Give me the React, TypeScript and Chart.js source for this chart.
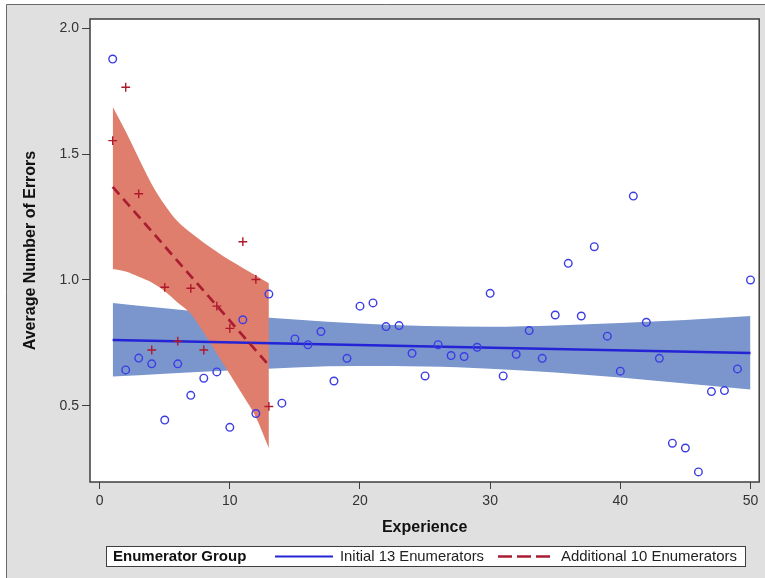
import React, { useEffect, useRef } from "react";
import { Chart, registerables } from "chart.js";

Chart.register(...registerables);

// ---- Data ----
const experienceInitial = [
  1, 2, 3, 4, 5, 6, 7, 8, 9, 10, 11, 12, 13, 14, 15, 16, 17, 18, 19, 20, 21, 22, 23, 24, 25,
  26, 27, 28, 29, 30, 31, 32, 33, 34, 35, 36, 37, 38, 39, 40, 41, 42, 43, 44, 45, 46, 47, 48, 49, 50,
];
const errorsInitial = [
  1.877, 0.643, 0.69, 0.667, 0.444, 0.667, 0.542, 0.61, 0.635, 0.415, 0.842, 0.47, 0.944, 0.511, 0.766,
  0.743, 0.795, 0.599, 0.689, 0.896, 0.909, 0.815, 0.819, 0.709, 0.619, 0.743, 0.7, 0.696, 0.733, 0.947,
  0.619, 0.705, 0.799, 0.689, 0.861, 1.066, 0.857, 1.132, 0.777, 0.638, 1.333, 0.832, 0.689, 0.352, 0.333,
  0.238, 0.557, 0.561, 0.647, 1.0,
];
const experienceAdditional = [1, 2, 3, 4, 5, 6, 7, 8, 9, 10, 11, 12, 13];
const errorsAdditional = [1.553, 1.765, 1.342, 0.722, 0.971, 0.757, 0.967, 0.722, 0.896, 0.808, 1.152, 1.002, 0.498];

const fitInitialX = [1, 50];
const fitInitialY = [0.762, 0.71];
const fitAdditionalX = [1, 13];
const fitAdditionalY = [1.37, 0.661];

const bandInitialX = [1, 5, 10, 15, 20, 25, 30, 35, 40, 45, 50];
const bandInitialUpper = [0.909, 0.888, 0.863, 0.843, 0.827, 0.817, 0.814, 0.819, 0.829, 0.841, 0.857];
const bandInitialLower = [0.617, 0.628, 0.641, 0.653, 0.658, 0.657, 0.648, 0.633, 0.613, 0.589, 0.565];

const bandAdditionalX = [1, 2, 3, 4, 5, 6, 7, 8, 9, 10, 11, 12, 13];
const bandAdditionalUpper = [1.688, 1.589, 1.483, 1.38, 1.298, 1.232, 1.187, 1.148, 1.112, 1.078, 1.048, 1.018, 0.987];
const bandAdditionalLower = [1.044, 1.034, 1.013, 0.99, 0.955, 0.91, 0.866, 0.79, 0.708, 0.626, 0.542, 0.455, 0.332];

const xTicks = [0, 10, 20, 30, 40, 50];
const yTicks = [0.5, 1.0, 1.5, 2.0];

const xTitle = "Experience";
const yTitle = "Average Number of Errors";
const legendTitle = "Enumerator Group";
const seriesNames = ["Initial 13 Enumerators", "Additional 10 Enumerators"];

// ---- Styles ----
const FONT = "'Liberation Sans', Arial, Helvetica, sans-serif";
const BLUE_BAND = "#7A96CC";
const RED_BAND = "#E07E6D";
const BLUE_LINE = "#2424D6";
const RED_LINE = "#A91D32";
const BLUE_MARK = "#3C3CE4";
const RED_MARK = "#B0182C";
const PAGE_BG = "#E0E0E0";
const FRAME = "#3E3E3E";

const pts = (xs: number[], ys: number[]) => xs.map((x, i) => ({ x, y: ys[i] }));

const decorPlugin = {
  id: "decor",
  beforeDraw(chart: any) {
    const { ctx, width, height, chartArea } = chart;
    ctx.save();
    ctx.fillStyle = "#FFFFFF";
    ctx.fillRect(0, 0, width, height);
    ctx.fillStyle = PAGE_BG;
    ctx.fillRect(6, 4, width - 6, height - 4);
    ctx.strokeStyle = "#6A6A6A";
    ctx.lineWidth = 1;
    ctx.beginPath();
    ctx.moveTo(6.5, height);
    ctx.lineTo(6.5, 4.5);
    ctx.lineTo(width, 4.5);
    ctx.stroke();
    ctx.fillStyle = "#FFFFFF";
    ctx.fillRect(chartArea.left, chartArea.top, chartArea.right - chartArea.left, chartArea.bottom - chartArea.top);
    ctx.restore();
  },
  afterDraw(chart: any) {
    const { ctx, chartArea } = chart;
    ctx.save();
    // plot frame
    ctx.strokeStyle = FRAME;
    ctx.lineWidth = 1.5;
    ctx.strokeRect(chartArea.left, chartArea.top, chartArea.right - chartArea.left, chartArea.bottom - chartArea.top);

    // axis titles
    ctx.fillStyle = "#111111";
    ctx.font = `bold 16px ${FONT}`;
    ctx.textAlign = "center";
    ctx.textBaseline = "middle";
    ctx.fillText(xTitle, (chartArea.left + chartArea.right) / 2, 528);
    ctx.save();
    ctx.translate(31, (chartArea.top + chartArea.bottom) / 2);
    ctx.rotate(-Math.PI / 2);
    ctx.fillText(yTitle, 0, 0);
    ctx.restore();

    // legend
    const lx = 106, ly = 546, lw = 639, lh = 20;
    const cy = ly + lh / 2 + 0.5;
    ctx.fillStyle = "#FFFFFF";
    ctx.fillRect(lx, ly, lw, lh);
    ctx.strokeStyle = FRAME;
    ctx.lineWidth = 1;
    ctx.strokeRect(lx + 0.5, ly + 0.5, lw, lh);

    ctx.textAlign = "left";
    ctx.fillStyle = "#111111";
    ctx.font = `bold 15px ${FONT}`;
    ctx.fillText(legendTitle, 113, cy, 138);

    ctx.strokeStyle = BLUE_LINE;
    ctx.lineWidth = 2.2;
    ctx.beginPath();
    ctx.moveTo(275, cy);
    ctx.lineTo(333, cy);
    ctx.stroke();
    ctx.font = `15px ${FONT}`;
    ctx.fillStyle = "#222222";
    ctx.fillText(seriesNames[0], 340, cy, 144);

    ctx.strokeStyle = RED_LINE;
    ctx.lineWidth = 2.6;
    ctx.setLineDash([14, 5]);
    ctx.beginPath();
    ctx.moveTo(498, cy);
    ctx.lineTo(552, cy);
    ctx.stroke();
    ctx.setLineDash([]);
    ctx.fillText(seriesNames[1], 561, cy, 176);
    ctx.restore();
  },
};

export default function App() {
  const ref = useRef<HTMLCanvasElement | null>(null);

  useEffect(() => {
    document.body.style.margin = "0";
    const canvas = ref.current;
    if (!canvas) return;
    const chart = new Chart(canvas, {
      type: "line",
      data: {
        datasets: [
          {
            label: seriesNames[1] + " points",
            data: pts(experienceAdditional, errorsAdditional),
            showLine: false,
            pointStyle: "cross",
            pointRadius: 4.4,
            pointBorderWidth: 1.4,
            pointBorderColor: RED_MARK,
            pointBackgroundColor: RED_MARK,
          },
          {
            label: seriesNames[0] + " points",
            data: pts(experienceInitial, errorsInitial),
            showLine: false,
            pointStyle: "circle",
            pointRadius: 3.8,
            pointBorderWidth: 1.4,
            pointBorderColor: BLUE_MARK,
            pointBackgroundColor: "rgba(0,0,0,0)",
          },
          {
            label: seriesNames[1],
            data: pts(fitAdditionalX, fitAdditionalY),
            borderColor: RED_LINE,
            borderWidth: 2.7,
            borderDash: [10, 6],
            pointRadius: 0,
            fill: false,
          },
          {
            label: seriesNames[0],
            data: pts(fitInitialX, fitInitialY),
            borderColor: BLUE_LINE,
            borderWidth: 2.6,
            pointRadius: 0,
            fill: false,
          },
          {
            label: "additional upper",
            data: pts(bandAdditionalX, bandAdditionalUpper),
            borderWidth: 0,
            borderColor: "rgba(0,0,0,0)",
            backgroundColor: RED_BAND,
            pointRadius: 0,
            cubicInterpolationMode: "monotone",
            fill: "+1",
          },
          {
            label: "additional lower",
            data: pts(bandAdditionalX, bandAdditionalLower),
            borderWidth: 0,
            borderColor: "rgba(0,0,0,0)",
            pointRadius: 0,
            cubicInterpolationMode: "monotone",
            fill: false,
          },
          {
            label: "initial upper",
            data: pts(bandInitialX, bandInitialUpper),
            borderWidth: 0,
            borderColor: "rgba(0,0,0,0)",
            backgroundColor: BLUE_BAND,
            pointRadius: 0,
            cubicInterpolationMode: "monotone",
            fill: "+1",
          },
          {
            label: "initial lower",
            data: pts(bandInitialX, bandInitialLower),
            borderWidth: 0,
            borderColor: "rgba(0,0,0,0)",
            pointRadius: 0,
            cubicInterpolationMode: "monotone",
            fill: false,
          },
        ],
      } as any,
      options: {
        responsive: false,
        animation: false,
        devicePixelRatio: 1,
        layout: { padding: { left: 0, top: 19, right: 4, bottom: 0 } },
        plugins: {
          legend: { display: false },
          tooltip: { enabled: false },
          title: { display: false },
        },
        scales: {
          x: {
            type: "linear",
            min: -0.743,
            max: 50.67,
            afterBuildTicks: (s: any) => {
              s.ticks = xTicks.map((v) => ({ value: v }));
            },
            afterFit: (s: any) => {
              s.height = 96;
            },
            grid: { drawOnChartArea: false, drawTicks: true, tickLength: 7, color: FRAME, lineWidth: 1 },
            border: { display: false },
            ticks: {
              color: "#333333",
              font: { family: FONT, size: 14 },
              padding: 4,
              autoSkip: false,
              maxRotation: 0,
              callback: (v: any) => String(v),
            },
          },
          y: {
            type: "linear",
            min: 0.198,
            max: 2.036,
            afterBuildTicks: (s: any) => {
              s.ticks = yTicks.map((v) => ({ value: v }));
            },
            afterFit: (s: any) => {
              s.width = 90;
            },
            grid: { drawOnChartArea: false, drawTicks: true, tickLength: 8, color: FRAME, lineWidth: 1 },
            border: { display: false },
            ticks: {
              color: "#333333",
              font: { family: FONT, size: 14 },
              padding: 3,
              autoSkip: false,
              callback: (v: any) => Number(v).toFixed(1),
            },
          },
        },
      } as any,
      plugins: [decorPlugin],
    });
    return () => chart.destroy();
  }, []);

  return (
    <div style={{ position: "fixed", left: 0, top: 0, width: 765, height: 578 }}>
      <canvas ref={ref} width={765} height={578} style={{ display: "block", width: 765, height: 578 }} />
    </div>
  );
}
